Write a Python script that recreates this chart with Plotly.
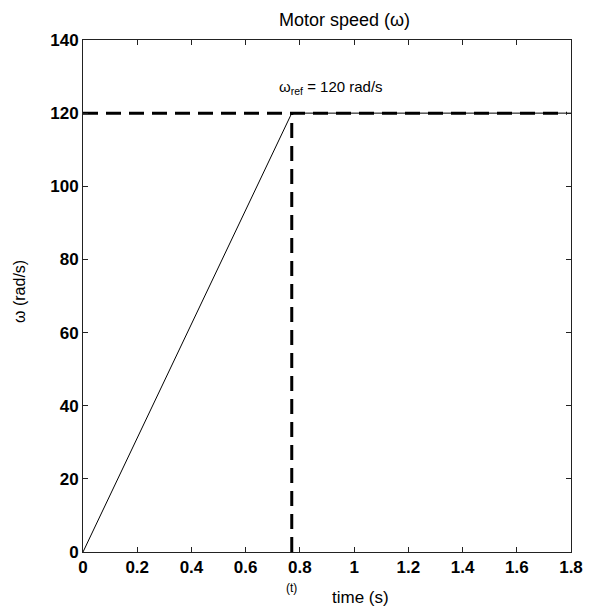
import plotly.graph_objects as go

time_s = [0, 0.77, 1.8]
speed = [0, 120, 120]
ref_time = [0, 1.785]
ref_speed = [120, 120]
t_reach = 0.77
w_ref = 120
x_ticks = [0, 0.2, 0.4, 0.6, 0.8, 1.0, 1.2, 1.4, 1.6, 1.8]
x_tick_text = ["0", "0.2", "0.4", "0.6", "0.8", "1", "1.2", "1.4", "1.6", "1.8"]
y_ticks = [0, 20, 40, 60, 80, 100, 120, 140]

FONT = "Liberation Sans, Arial"
W, H = 590, 614
L, R, T, B = 83, 19, 40, 62


def px_to_paper_x(px):
    return (px - L) / (W - L - R)


def px_to_paper_y(py):
    return (H - B - py) / (H - T - B)


fig = go.Figure()
fig.add_trace(go.Scatter(x=time_s, y=speed, mode="lines",
                         line=dict(color="black", width=1), showlegend=False))
fig.add_trace(go.Scatter(x=ref_time, y=ref_speed, mode="lines",
                         line=dict(color="black", width=3, dash="15px,8px"), showlegend=False))
fig.add_trace(go.Scatter(x=[t_reach, t_reach], y=[0, w_ref], mode="lines",
                         line=dict(color="black", width=3, dash="15px,8px"), showlegend=False))

# reference label
fig.add_annotation(x=0.716, y=127, xref="x", yref="y", showarrow=False,
                   text="ω<sub>ref</sub> = 120 rad/s", xanchor="left", yanchor="middle",
                   font=dict(family=FONT, size=15, color="black"))
# (t) marker under the axis
fig.add_annotation(x=t_reach, y=px_to_paper_y(588), xref="x", yref="paper", showarrow=False,
                   text="(t)", yanchor="middle", xanchor="center",
                   font=dict(family=FONT, size=12, color="black"))
# x-axis title
fig.add_annotation(x=px_to_paper_x(360), y=px_to_paper_y(597), xref="paper", yref="paper",
                   showarrow=False, text="time (s)", xanchor="center", yanchor="middle",
                   font=dict(family=FONT, size=17, color="black"))
# y-axis title
fig.add_annotation(x=px_to_paper_x(19), y=px_to_paper_y(292), xref="paper", yref="paper",
                   showarrow=False, text="ω (rad/s)", textangle=-90,
                   xanchor="center", yanchor="middle",
                   font=dict(family=FONT, size=16, color="black"))
# title
fig.add_annotation(x=px_to_paper_x(344), y=px_to_paper_y(20), xref="paper", yref="paper",
                   showarrow=False, text="Motor speed (ω)", xanchor="center", yanchor="middle",
                   font=dict(family=FONT, size=18, color="black"))

axis_common = dict(showgrid=False, zeroline=False, showline=True, linecolor="#222",
                   linewidth=1, mirror="ticks", ticks="inside", ticklen=5,
                   tickcolor="#222", automargin=False,
                   tickfont=dict(family=FONT, size=17, color="black", weight="bold"))

fig.update_xaxes(range=[0, 1.8], tickvals=x_ticks, ticktext=x_tick_text, **axis_common)
fig.update_yaxes(range=[0, 140], tickvals=y_ticks, **axis_common)

fig.update_layout(
    width=W, height=H,
    margin=dict(l=L, r=R, t=T, b=B),
    plot_bgcolor="white", paper_bgcolor="white",
)

fig.write_html("out.html")
